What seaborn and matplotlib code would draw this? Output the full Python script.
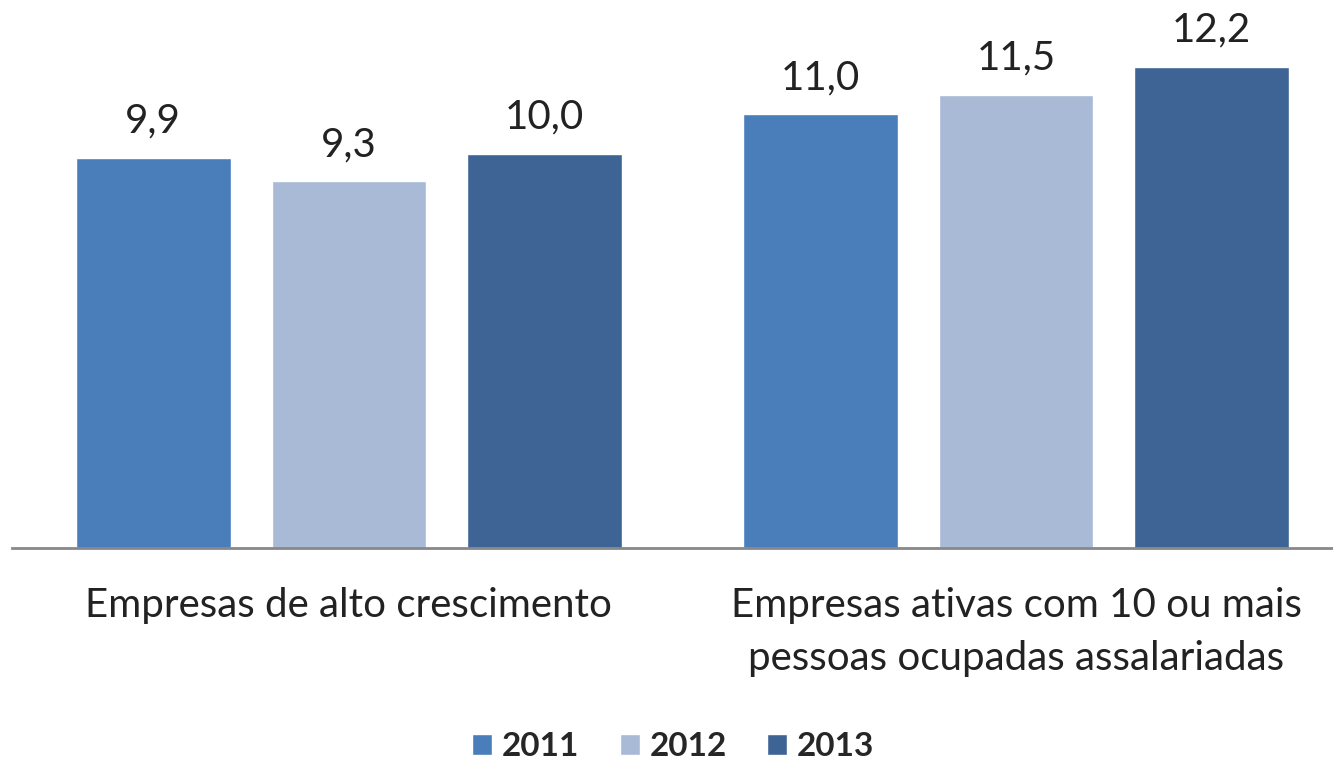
import matplotlib
matplotlib.use("Agg")
import matplotlib.pyplot as plt
import seaborn as sns
import pandas as pd

# dados do gráfico
categorias = [
    "Empresas de alto crescimento",
    "Empresas ativas com 10 ou mais\npessoas ocupadas assalariadas",
]
anos = ["2011", "2012", "2013"]
valores_2011 = [9.9, 11.0]
valores_2012 = [9.3, 11.5]
valores_2013 = [10.0, 12.2]
cores = ["#4A7EBB", "#A9BAD6", "#3E6496"]

df = pd.DataFrame({
    "categoria": categorias * 3,
    "ano": [a for a in anos for _ in categorias],
    "valor": valores_2011 + valores_2012 + valores_2013,
})

sns.set_style("white")
plt.rcParams["font.family"] = ["Lato", "DejaVu Sans"]

fig = plt.figure(figsize=(13.33, 7.61), dpi=100)
ax = fig.add_axes([0.009, 0.28, 0.991, 0.72])

sns.barplot(
    data=df, x="categoria", y="valor", hue="ano",
    palette=cores, width=0.88, gap=0.21, saturation=1,
    legend=True, ax=ax,
)

# rótulos de valor com vírgula decimal
for cont in ax.containers:
    ax.bar_label(
        cont,
        labels=[f"{v:.1f}".replace(".", ",") for v in cont.datavalues],
        padding=13, fontsize=29, color="#222222",
    )

ax.set_ylim(0, 13.9)
ax.set_xlim(-0.505, 1.475)
ax.set_xlabel("")
ax.set_ylabel("")
ax.set_yticks([])
for lado in ["top", "right", "left"]:
    ax.spines[lado].set_visible(False)
ax.spines["bottom"].set_color("#888888")
ax.spines["bottom"].set_linewidth(2)
ax.tick_params(axis="x", length=0, pad=28, labelsize=29, labelcolor="#222222")
for t in ax.get_xticklabels():
    t.set_linespacing(1.55)

# legenda centralizada embaixo
handles, labels = ax.get_legend_handles_labels()
ax.legend_.remove()
fig.legend(
    handles, labels, loc="lower center", bbox_to_anchor=(0.505, -0.04),
    ncol=3, frameon=False, handlelength=0.6, handleheight=0.6,
    handletextpad=0.3, columnspacing=1.2,
    prop={"size": 24, "weight": "bold"},
)

plt.savefig("out.png", dpi=100)
